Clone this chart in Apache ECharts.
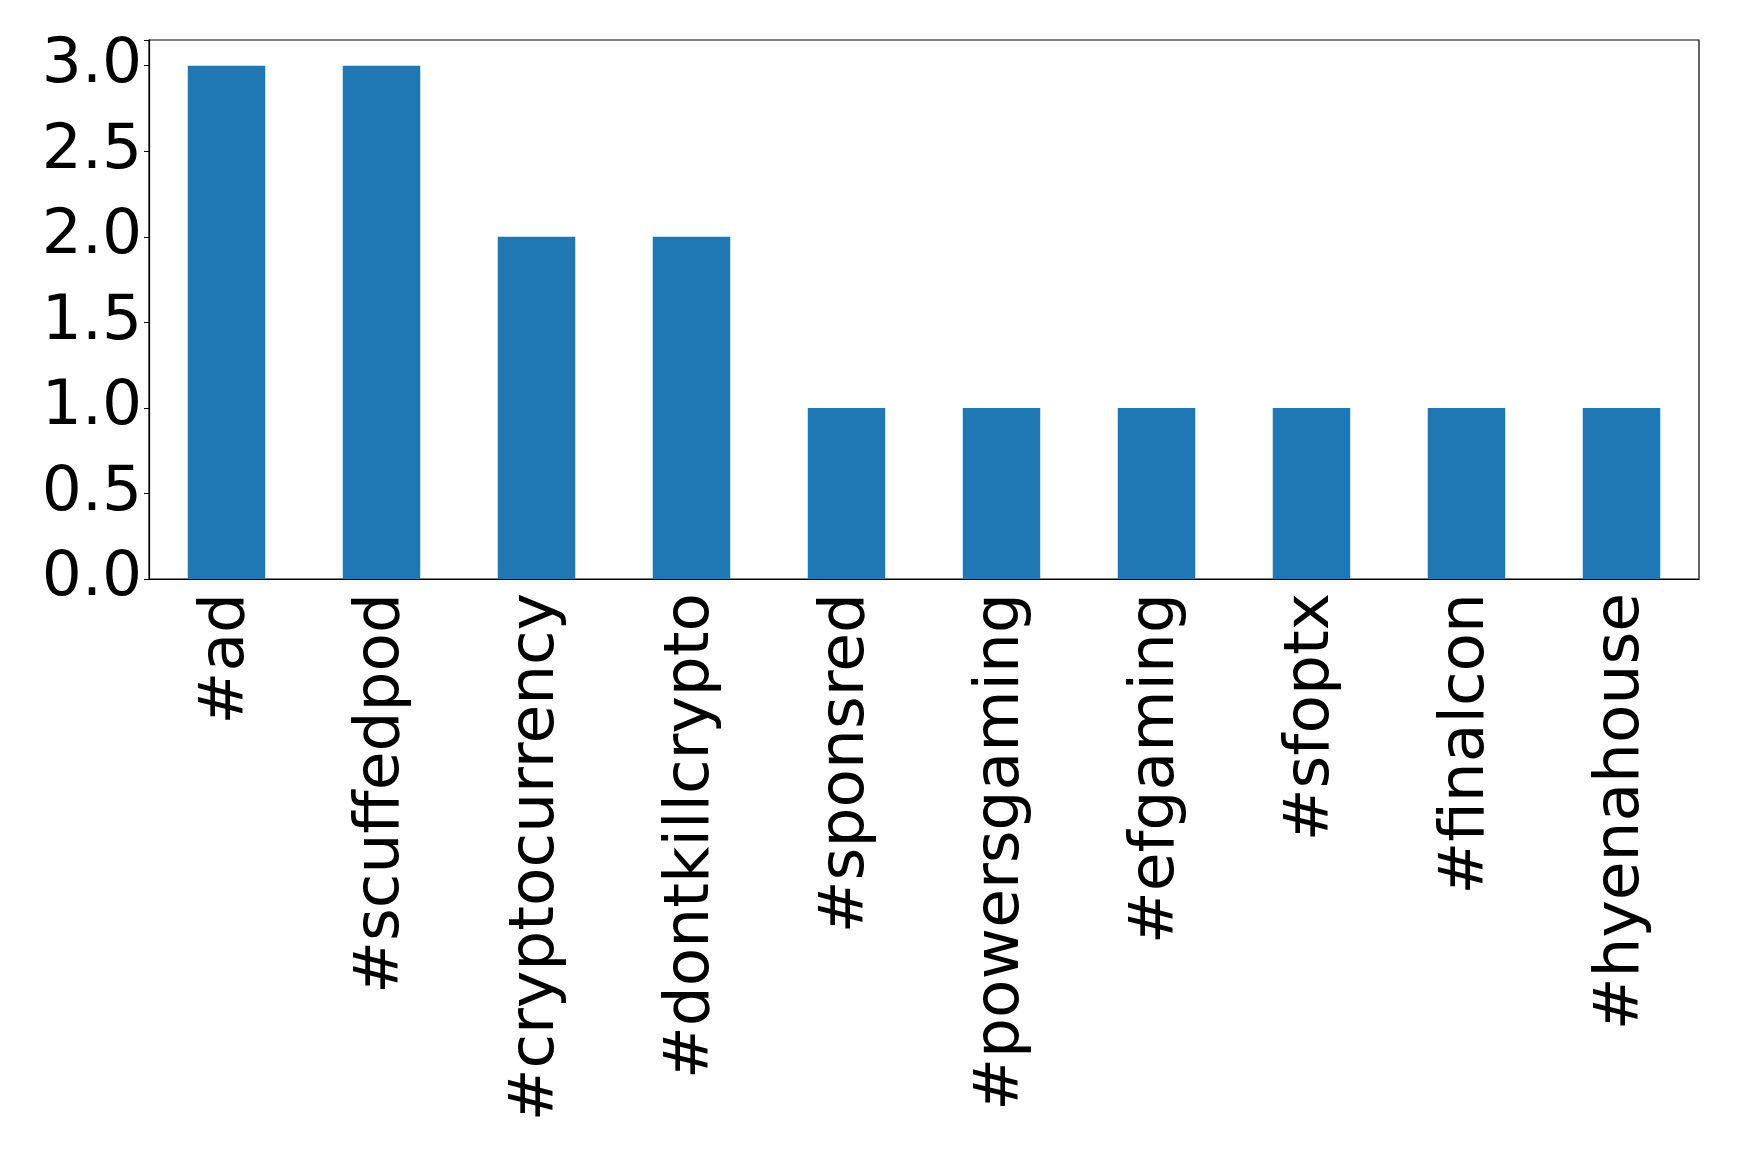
<!DOCTYPE html>
<html><head><meta charset="utf-8">
<script src="https://cdn.jsdelivr.net/npm/echarts@6/dist/echarts.min.js"></script>
<style>html,body{margin:0;padding:0;background:#fff}#c{width:1739px;height:1153px}</style>
</head><body><div id="c"></div>
<script>
const categories = ["#ad","#scuffedpod","#cryptocurrency","#dontkillcrypto","#sponsred","#powersgaming","#efgaming","#sfoptx","#finalcon","#hyenahouse"];
const counts = [3,3,2,2,1,1,1,1,1,1];
const yTicks = [0,0.5,1.0,1.5,2.0,2.5,3.0];

const chart = echarts.init(document.getElementById('c'), null, {renderer:'canvas'});
const font = 'DejaVu Sans';
chart.setOption({
  animation:false,
  backgroundColor:'#fff',
  grid:{left:149,right:40,top:40,bottom:574,show:true,borderColor:'#000',borderWidth:1.2,backgroundColor:'transparent'},
  xAxis:{type:'category',data:categories,boundaryGap:true,
    axisLine:{lineStyle:{color:'#000',width:1.2}},
    axisTick:{alignWithLabel:true,length:5,lineStyle:{color:'#000'}},
    axisLabel:{rotate:90,color:'#000',fontFamily:font,fontSize:63,margin:14,interval:0,padding:[14,0,0,0]}},
  yAxis:{type:'value',min:0,max:3.15,interval:0.5,
    splitLine:{show:false},
    axisLine:{show:true,lineStyle:{color:'#000',width:1.2}},
    axisTick:{show:true,length:5,lineStyle:{color:'#000'}},
    axisLabel:{color:'#000',fontFamily:font,fontSize:63,margin:7,
      formatter:v=>{const t=yTicks.find(x=>Math.abs(x-v)<1e-6);return t===undefined?'':t.toFixed(1);}}},
  series:[{type:'bar',data:counts,barWidth:'50%',itemStyle:{color:'#1f77b4'}}]
});
</script></body></html>
